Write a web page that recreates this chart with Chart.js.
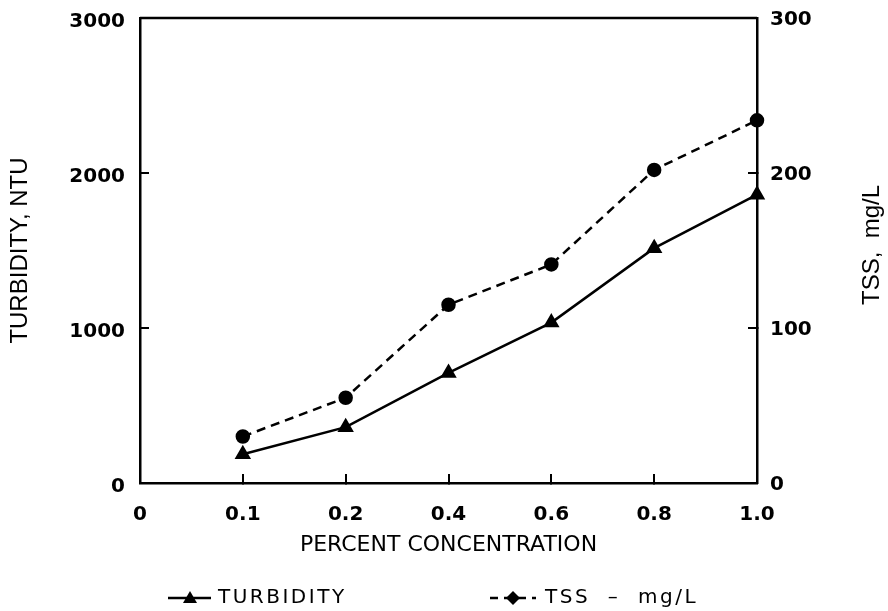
<!DOCTYPE html>
<html>
<head>
<meta charset="utf-8">
<script src="https://cdn.jsdelivr.net/npm/chart.js@4.4.0/dist/chart.umd.min.js"></script>
<style>
html, body { margin: 0; padding: 0; background: #fff; }
#wrap { width: 888px; height: 611px; }
</style>
</head>
<body>
<div id="wrap"><canvas id="chart"></canvas></div>
<script>
// values
var concentrations = ["0", "0.1", "0.2", "0.4", "0.6", "0.8", "1.0"];
var turbidity = [null, 185, 360, 710, 1035, 1515, 1860];   // NTU, left axis
var tss = [null, 30, 55, 115, 141, 202, 234];              // mg/L, right axis
var turbidityTicks = [0, 1000, 2000, 3000];
var tssTicks = [0, 100, 200, 300];

var tickFont = { family: "DejaVu Sans", weight: "bold", size: 20 };

// no tick mark at the ends of an axis, only the inner ones
function innerTick(first, last) {
  return function(ctx) {
    if (ctx.index === first || ctx.index === last) return "rgba(0,0,0,0)";
    return "#000";
  };
}

function plainNumber(v) { return String(v); }

// fixed axis widths, and no extra room reserved for the end labels
function fitWidth(w) {
  return function(s) {
    s.width = w;
    s.paddingTop = 0;
    s.paddingBottom = 0;
  };
}

var framePlugin = {
  id: "frame",
  beforeDatasetsDraw: function(chart) {
    var c = chart.ctx, a = chart.chartArea;
    c.save();
    c.strokeStyle = "#000";
    c.lineWidth = 2.5;
    c.beginPath();
    c.moveTo(a.left, a.top);
    c.lineTo(a.right, a.top);
    c.stroke();
    c.restore();
  },
  afterDraw: function(chart) {
    var c = chart.ctx;
    c.save();
    c.fillStyle = "#000";
    c.strokeStyle = "#000";

    // right axis title, reading upwards
    c.font = "24px 'Liberation Sans'";
    c.textAlign = "center";
    c.textBaseline = "middle";
    c.translate(872, 245);
    c.rotate(-Math.PI / 2);
    c.fillText("TSS,  mg/L", 0, 0);
    c.setTransform(1, 0, 0, 1, 0, 0);

    // legend
    var y = 598;
    c.lineWidth = 2.5;
    c.beginPath();
    c.moveTo(168, y); c.lineTo(211, y);
    c.stroke();
    c.beginPath();
    c.moveTo(190, y - 7); c.lineTo(197, y + 5); c.lineTo(183, y + 5);
    c.closePath();
    c.fill();

    c.setLineDash([8, 6]);
    c.beginPath();
    c.moveTo(490, y); c.lineTo(536, y);
    c.stroke();
    c.setLineDash([]);
    c.beginPath();
    c.moveTo(513, y - 7); c.lineTo(520, y); c.lineTo(513, y + 7); c.lineTo(506, y);
    c.closePath();
    c.fill();

    c.font = "20px 'DejaVu Sans'";
    c.letterSpacing = "2.5px";
    c.textAlign = "left";
    c.fillText("TURBIDITY", 218, y);
    c.fillText("TSS  –  mg/L", 545, y);
    c.restore();
  }
};

var ctx = document.getElementById("chart").getContext("2d");
new Chart(ctx, {
  type: "line",
  data: {
    labels: concentrations,
    datasets: [{
      label: "TURBIDITY",
      data: turbidity,
      yAxisID: "y",
      borderColor: "#000",
      backgroundColor: "#000",
      borderWidth: 2.5,
      pointStyle: "triangle",
      pointRadius: 7,
      tension: 0,
      clip: false
    }, {
      label: "TSS - mg/L",
      data: tss,
      yAxisID: "y1",
      borderColor: "#000",
      backgroundColor: "#000",
      borderWidth: 2.5,
      borderDash: [9, 6],
      pointStyle: "circle",
      pointRadius: 6,
      tension: 0,
      clip: false
    }]
  },
  options: {
    responsive: true,
    maintainAspectRatio: false,
    animation: false,
    layout: { padding: { top: 18, bottom: 50, left: 0, right: 0 } },
    plugins: {
      legend: { display: false },
      tooltip: { enabled: false }
    },
    scales: {
      x: {
        type: "category",
        offset: false,
        grid: {
          drawOnChartArea: false,
          tickLength: -9,
          lineWidth: 2,
          color: innerTick(0, concentrations.length - 1)
        },
        border: { display: true, color: "#000", width: 2.5 },
        ticks: { font: tickFont, color: "#000", padding: 29, maxRotation: 0, autoSkip: false },
        title: {
          display: true,
          text: "PERCENT CONCENTRATION",
          color: "#000",
          font: { family: "DejaVu Sans", size: 22 },
          padding: { top: 0, bottom: 3 }
        },
        afterFit: function(s) { s.height = 78; }
      },
      y: {
        position: "left",
        min: turbidityTicks[0],
        max: turbidityTicks[turbidityTicks.length - 1],
        ticks: {
          stepSize: turbidityTicks[1] - turbidityTicks[0],
          callback: plainNumber,
          font: tickFont,
          color: "#000",
          padding: 24,
          labelOffset: 4
        },
        grid: {
          drawOnChartArea: false,
          tickLength: -9,
          lineWidth: 2,
          color: innerTick(0, turbidityTicks.length - 1)
        },
        border: { display: true, color: "#000", width: 2.5 },
        title: {
          display: true,
          text: "TURBIDITY, NTU",
          color: "#000",
          font: { family: "Liberation Sans", size: 24 },
          padding: { top: 6, bottom: 0 }
        },
        afterFit: fitWidth(140)
      },
      y1: {
        position: "right",
        min: tssTicks[0],
        max: tssTicks[tssTicks.length - 1],
        ticks: {
          stepSize: tssTicks[1] - tssTicks[0],
          callback: plainNumber,
          font: tickFont,
          color: "#000",
          padding: 22,
          labelOffset: 2
        },
        grid: {
          drawOnChartArea: false,
          tickLength: -9,
          lineWidth: 2,
          color: innerTick(0, tssTicks.length - 1)
        },
        border: { display: true, color: "#000", width: 2.5 },
        afterFit: fitWidth(131)
      }
    }
  },
  plugins: [framePlugin]
});
</script>
</body>
</html>
